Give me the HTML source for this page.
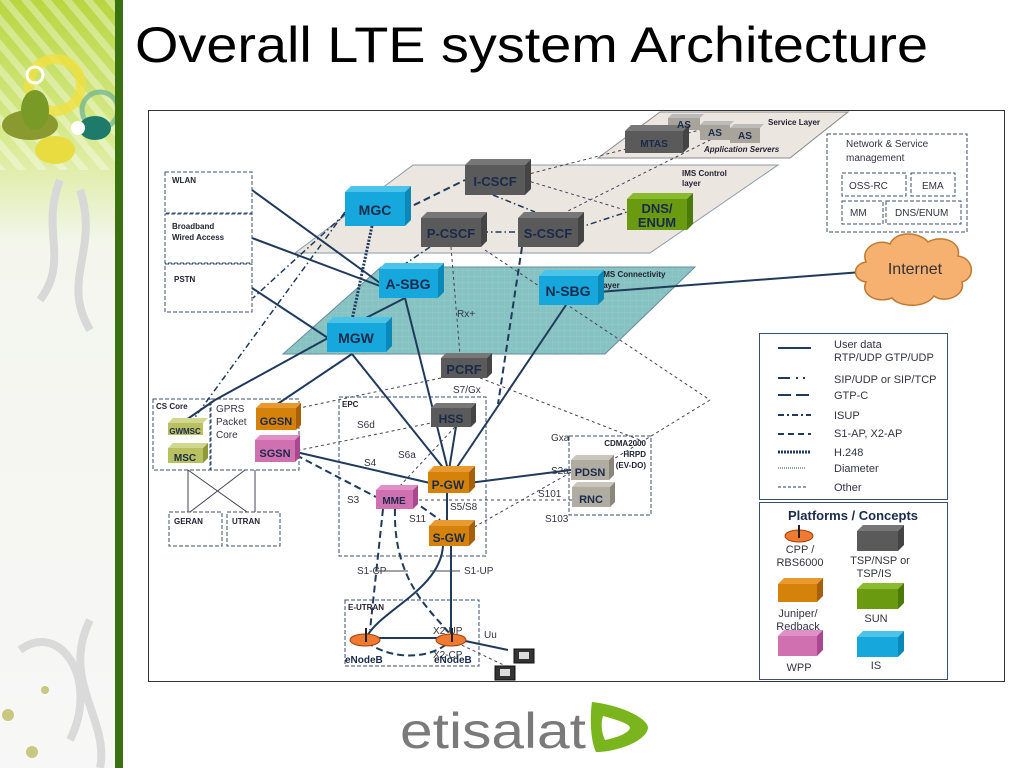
<!DOCTYPE html>
<html><head><meta charset="utf-8"><style>
html,body{margin:0;padding:0;background:#fff;width:1024px;height:768px;overflow:hidden}
svg{display:block}
text{font-family:"Liberation Sans",Arial,sans-serif}
</style></head><body>
<svg width="1024" height="768" viewBox="0 0 1024 768" xmlns="http://www.w3.org/2000/svg">
<defs>
<linearGradient id="side" x1="0" y1="0" x2="0" y2="1">
<stop offset="0" stop-color="#b8d640"/><stop offset="0.18" stop-color="#d8ea90"/><stop offset="0.32" stop-color="#f4f6ee"/><stop offset="1" stop-color="#f7f7f7"/>
</linearGradient>
<pattern id="stripes" width="16" height="16" patternUnits="userSpaceOnUse" patternTransform="rotate(-40)">
<rect width="16" height="16" fill="none"/><rect width="7" height="16" fill="#ffffff" opacity="0.35"/>
</pattern>
<pattern id="grid" width="6" height="6" patternUnits="userSpaceOnUse">
<rect width="6" height="6" fill="#86c2c2"/><path d="M0 0H6M0 0V6" stroke="#9ed0d0" stroke-width="0.6"/>
</pattern>
</defs>

<!-- sidebar -->
<rect x="0" y="0" width="116" height="768" fill="url(#side)"/>
<rect x="0" y="0" width="116" height="170" fill="url(#stripes)"/>
<circle cx="55" cy="85" r="26" fill="none" stroke="#f0e040" stroke-width="10" opacity="0.8"/>
<circle cx="35" cy="75" r="8" fill="none" stroke="#fff" stroke-width="3"/>
<circle cx="100" cy="110" r="18" fill="none" stroke="#6ab090" stroke-width="5" opacity="0.7"/>
<ellipse cx="30" cy="125" rx="28" ry="15" fill="#8a9a30"/>
<ellipse cx="55" cy="150" rx="20" ry="14" fill="#e8dc40"/>
<ellipse cx="35" cy="110" rx="14" ry="20" fill="#7a9a28"/>
<ellipse cx="95" cy="128" rx="16" ry="12" fill="#1e7a6a"/>
<circle cx="78" cy="128" r="7" fill="#fff"/>
<path d="M60 180 C40 230,70 260,40 300 M80 190 C100 250,60 280,90 330" stroke="#d8d8d8" stroke-width="8" fill="none"/>
<path d="M20 650 C60 620,100 680,70 740 M90 620 C60 680,110 720,100 768" stroke="#dadada" stroke-width="8" fill="none"/>
<circle cx="8" cy="715" r="6" fill="#c8c880"/><circle cx="32" cy="752" r="6" fill="#c8c880"/><circle cx="45" cy="690" r="4" fill="#c8c880"/>
<rect x="115" y="0" width="8" height="768" fill="#3a7010"/>

<!-- title -->
<text x="135" y="62" font-size="50" fill="#000" textLength="793" lengthAdjust="spacingAndGlyphs">Overall LTE system Architecture</text>

<!-- frame -->
<rect x="148.5" y="110.5" width="856" height="571" fill="#fff" stroke="#333" stroke-width="1"/>

<!-- planes -->
<polygon points="598,158 660,112 848,112 790,158" fill="#ece6e0" stroke="#888"/>
<polygon points="413,165 778,165 650,253 295,253" fill="#ece6e0" stroke="#8a9aaa"/>
<polygon points="381,267 695,267 605,354 283,354" fill="url(#grid)" stroke="#6a8a9a"/>
<text x="768" y="125" font-size="8" font-weight="bold" fill="#223">Service Layer</text>
<text x="704" y="152" font-size="8" font-weight="bold" font-style="italic" fill="#223">Application Servers</text>
<text x="682" y="176" font-size="8" font-weight="bold" fill="#223">IMS Control</text>
<text x="682" y="186" font-size="8" font-weight="bold" fill="#223">layer</text>
<text x="601" y="277" font-size="8" font-weight="bold" fill="#223">IMS Connectivity</text>
<text x="601" y="288" font-size="8" font-weight="bold" fill="#223">layer</text>

<!-- left dashed boxes -->
<g fill="none" stroke="#3a5070" stroke-dasharray="4,2">
<rect x="165" y="172" width="87" height="41"/><rect x="165" y="214" width="87" height="49"/><rect x="165" y="264" width="87" height="48"/>
<rect x="153" y="399" width="57" height="71"/><rect x="211" y="399" width="88" height="71"/>
<rect x="169" y="512" width="53" height="34"/><rect x="227" y="512" width="53" height="34"/>
<rect x="339" y="397" width="147" height="159"/>
<rect x="569" y="436" width="82" height="79"/>
<rect x="345" y="600" width="134" height="66"/>
<rect x="827" y="134" width="140" height="98"/>
<rect x="842" y="173" width="64" height="23"/><rect x="911" y="173" width="44" height="23"/>
<rect x="842" y="201" width="41" height="23"/><rect x="886" y="201" width="75" height="23"/>
</g>
<g font-size="8" font-weight="bold" fill="#223">
<text x="172" y="183">WLAN</text><text x="172" y="229">Broadband</text><text x="172" y="240">Wired Access</text><text x="174" y="282">PSTN</text>
<text x="156" y="409">CS Core</text><text x="174" y="524">GERAN</text><text x="232" y="524">UTRAN</text>
<text x="342" y="407">EPC</text><text x="348" y="610">E-UTRAN</text>
<text x="646" y="446" text-anchor="end">CDMA2000</text><text x="646" y="457" text-anchor="end">HRPD</text><text x="646" y="468" text-anchor="end">(EV-DO)</text>
</g>
<g font-size="10" fill="#334">
<text x="216" y="412">GPRS</text><text x="216" y="425">Packet</text><text x="216" y="438">Core</text>
<text x="846" y="147">Network &amp; Service</text><text x="846" y="161">management</text>
<text x="849" y="189">OSS-RC</text><text x="922" y="189">EMA</text><text x="850" y="216">MM</text><text x="895" y="216">DNS/ENUM</text>
</g>

<!-- connectors -->
<g fill="none" stroke="#1f3a5a" stroke-width="2">
<line x1="252" y1="190" x2="380" y2="283"/>
<line x1="252" y1="238" x2="380" y2="286"/>
<line x1="252" y1="288" x2="328" y2="338"/>
<line x1="405" y1="298" x2="354" y2="324"/>
<line x1="405" y1="298" x2="448" y2="470"/>
<line x1="328" y1="338" x2="215" y2="400"/>
<line x1="215" y1="400" x2="186" y2="420"/>
<line x1="352" y1="354" x2="276" y2="405"/>
<line x1="352" y1="354" x2="445" y2="470"/>
<line x1="566" y1="305" x2="455" y2="470"/>
<line x1="598" y1="292" x2="862" y2="272"/>
<line x1="296" y1="452" x2="430" y2="483"/>
<line x1="469" y1="483" x2="571" y2="470"/>
<line x1="447" y1="493" x2="447" y2="520"/>
<path d="M443 546 C440 590,380 610,366 638"/>
<line x1="451" y1="546" x2="451" y2="638"/>
<line x1="367" y1="638" x2="449" y2="638"/>
<line x1="459" y1="408" x2="449" y2="470"/>
<line x1="451" y1="638" x2="508" y2="650"/>
</g>
<g fill="none" stroke="#1f3a5a" stroke-width="2" stroke-dasharray="7,4">
<line x1="296" y1="455" x2="376" y2="497"/>
<line x1="412" y1="500" x2="440" y2="520"/>
<path d="M383 509 L370 630"/>
<path d="M395 509 C393 580,430 610,450 634"/>
<path d="M367 642 C390 660,430 660,449 642"/>
<line x1="522" y1="247" x2="498" y2="404"/>
<line x1="404" y1="210" x2="465" y2="180"/>
</g>
<g fill="none" stroke="#1f3a5a" stroke-width="3" stroke-dasharray="2,1.5">
<line x1="372" y1="226" x2="352" y2="320"/>
</g>
<g fill="none" stroke="#1f3a5a" stroke-width="1.5" stroke-dasharray="6,3,1.5,3">
<line x1="482" y1="232" x2="518" y2="232"/>
<line x1="345" y1="212" x2="193" y2="420"/>
<line x1="345" y1="214" x2="253" y2="298"/>
<line x1="430" y1="247" x2="405" y2="264"/>
<line x1="493" y1="195" x2="535" y2="212"/>
<line x1="578" y1="228" x2="627" y2="212"/>
</g>
<g fill="none" stroke="#445" stroke-width="1" stroke-dasharray="3,3">
<line x1="451" y1="247" x2="460" y2="355"/>
<line x1="485" y1="250" x2="710" y2="400"/>
<line x1="710" y1="400" x2="612" y2="460"/>
<line x1="441" y1="378" x2="290" y2="410"/>
<line x1="480" y1="378" x2="640" y2="440"/>
<line x1="413" y1="500" x2="572" y2="500"/>
<line x1="469" y1="530" x2="575" y2="470"/>
<line x1="525" y1="180" x2="625" y2="210"/>
<line x1="525" y1="175" x2="700" y2="130"/>
<line x1="520" y1="235" x2="720" y2="135"/>
<line x1="465" y1="416" x2="300" y2="450"/>
<line x1="455" y1="427" x2="398" y2="488"/>
<line x1="451" y1="640" x2="510" y2="668"/>
</g>
<g stroke="#445" stroke-width="1">
<line x1="188" y1="470" x2="188" y2="512"/><line x1="188" y1="470" x2="247" y2="512"/>
<line x1="245" y1="470" x2="190" y2="512"/><line x1="255" y1="470" x2="255" y2="512"/>
<line x1="375" y1="571" x2="408" y2="571"/><line x1="430" y1="571" x2="460" y2="571"/>
</g>

<!-- 3D boxes -->
<g id="boxes">
<!-- MGC -->
<polygon points="345,192 351,186 411,186 405,192" fill="#4cc4ea"/><polygon points="405,192 411,186 411,220 405,226" fill="#0a88b8"/><rect x="345" y="192" width="60" height="34" fill="#16a8dc"/>
<!-- I-CSCF -->
<polygon points="465,165 471,159 531,159 525,165" fill="#777"/><polygon points="525,165 531,159 531,189 525,195" fill="#444"/><rect x="465" y="165" width="60" height="30" fill="#5a5a5a"/>
<!-- P-CSCF -->
<polygon points="421,218 427,212 487,212 481,218" fill="#777"/><polygon points="481,218 487,212 487,241 481,247" fill="#444"/><rect x="421" y="218" width="60" height="29" fill="#5a5a5a"/>
<!-- S-CSCF -->
<polygon points="518,218 524,212 584,212 578,218" fill="#777"/><polygon points="578,218 584,212 584,241 578,247" fill="#444"/><rect x="518" y="218" width="60" height="29" fill="#5a5a5a"/>
<!-- A-SBG -->
<polygon points="379,269 385,263 444,263 438,269" fill="#4cc4ea"/><polygon points="438,269 444,263 444,292 438,298" fill="#0a88b8"/><rect x="379" y="269" width="59" height="29" fill="#16a8dc"/>
<!-- N-SBG -->
<polygon points="539,276 545,270 604,270 598,276" fill="#4cc4ea"/><polygon points="598,276 604,270 604,299 598,305" fill="#0a88b8"/><rect x="539" y="276" width="59" height="29" fill="#16a8dc"/>
<!-- MGW -->
<polygon points="327,323 333,317 392,317 386,323" fill="#4cc4ea"/><polygon points="386,323 392,317 392,346 386,352" fill="#0a88b8"/><rect x="327" y="323" width="59" height="29" fill="#16a8dc"/>
<!-- PCRF -->
<polygon points="441,358 446,353 492,353 487,358" fill="#777"/><polygon points="487,358 492,353 492,373 487,378" fill="#444"/><rect x="441" y="358" width="46" height="20" fill="#5a5a5a"/>
<!-- DNS/ENUM -->
<polygon points="627,199 633,193 693,193 687,199" fill="#8aba30"/><polygon points="687,199 693,193 693,224 687,230" fill="#4a7a08"/><rect x="627" y="199" width="60" height="31" fill="#6a9a10"/>
<!-- AS servers -->
<polygon points="668,118 672,114 704,114 700,118" fill="#bbb"/><rect x="668" y="118" width="32" height="12" fill="#a8a49c"/>
<polygon points="700,125 704,121 734,121 730,125" fill="#bbb"/><rect x="700" y="125" width="30" height="15" fill="#a8a49c"/>
<polygon points="730,128 734,124 764,124 760,128" fill="#bbb"/><rect x="730" y="128" width="30" height="15" fill="#a8a49c"/>
<!-- MTAS -->
<polygon points="625,131 631,125 689,125 683,131" fill="#777"/><polygon points="683,131 689,125 689,147 683,153" fill="#444"/><rect x="625" y="131" width="58" height="22" fill="#5a5a5a"/>
<!-- GWMSC -->
<polygon points="168,423 173,418 208,418 203,423" fill="#d0d890"/><rect x="168" y="423" width="35" height="12" fill="#b8c060"/>
<!-- MSC -->
<polygon points="168,448 173,443 208,443 203,448" fill="#d0d890"/><polygon points="203,448 208,443 208,458 203,463" fill="#909838"/><rect x="168" y="448" width="35" height="15" fill="#b8c060"/>
<!-- GGSN -->
<polygon points="256,408 261,403 301,403 296,408" fill="#e89a30"/><polygon points="296,408 301,403 301,425 296,430" fill="#a86008"/><rect x="256" y="408" width="40" height="22" fill="#d4820a"/>
<!-- SGSN -->
<polygon points="255,440 260,435 300,435 295,440" fill="#e090c8"/><polygon points="295,440 300,435 300,457 295,462" fill="#a84890"/><rect x="255" y="440" width="40" height="22" fill="#d070b0"/>
<!-- HSS -->
<polygon points="431,408 436,403 476,403 471,408" fill="#777"/><polygon points="471,408 476,403 476,422 471,427" fill="#444"/><rect x="431" y="408" width="40" height="19" fill="#5a5a5a"/>
<!-- P-GW -->
<polygon points="428,472 434,466 475,466 469,472" fill="#e89a30"/><polygon points="469,472 475,466 475,487 469,493" fill="#a86008"/><rect x="428" y="472" width="41" height="21" fill="#d4820a"/>
<!-- MME -->
<polygon points="376,490 381,485 418,485 413,490" fill="#e090c8"/><polygon points="413,490 418,485 418,504 413,509" fill="#a84890"/><rect x="376" y="490" width="37" height="19" fill="#d070b0"/>
<!-- S-GW -->
<polygon points="429,526 435,520 475,520 469,526" fill="#e89a30"/><polygon points="469,526 475,520 475,540 469,546" fill="#a86008"/><rect x="429" y="526" width="40" height="20" fill="#d4820a"/>
<!-- PDSN -->
<polygon points="571,460 576,455 614,455 609,460" fill="#cac6bc"/><polygon points="609,460 614,455 614,475 609,480" fill="#8a867c"/><rect x="571" y="460" width="38" height="20" fill="#b0aca2"/>
<!-- RNC -->
<polygon points="572,487 577,482 615,482 610,487" fill="#cac6bc"/><polygon points="610,487 615,482 615,502 610,507" fill="#8a867c"/><rect x="572" y="487" width="38" height="20" fill="#b0aca2"/>
</g>
<g font-weight="bold" fill="#1a2a4a" text-anchor="middle">
<text x="375" y="215" font-size="14">MGC</text>
<text x="495" y="186" font-size="13">I-CSCF</text>
<text x="451" y="238" font-size="13">P-CSCF</text>
<text x="548" y="238" font-size="13">S-CSCF</text>
<text x="408" y="289" font-size="14">A-SBG</text>
<text x="568" y="296" font-size="14">N-SBG</text>
<text x="356" y="343" font-size="14">MGW</text>
<text x="464" y="374" font-size="13">PCRF</text>
<text x="657" y="213" font-size="13">DNS/</text><text x="657" y="227" font-size="13">ENUM</text>
<text x="654" y="147" font-size="10">MTAS</text>
<text x="684" y="128" font-size="10">AS</text><text x="715" y="136" font-size="10">AS</text><text x="745" y="139" font-size="10">AS</text>
<text x="185" y="434" font-size="8">GWMSC</text>
<text x="185" y="461" font-size="10">MSC</text>
<text x="276" y="425" font-size="11">GGSN</text>
<text x="275" y="457" font-size="11">SGSN</text>
<text x="451" y="423" font-size="12">HSS</text>
<text x="448" y="489" font-size="12">P-GW</text>
<text x="394" y="504" font-size="10">MME</text>
<text x="449" y="542" font-size="12">S-GW</text>
<text x="590" y="476" font-size="11">PDSN</text>
<text x="591" y="503" font-size="11">RNC</text>
</g>
<g font-size="10" fill="#334">
<text x="457" y="317">Rx+</text><text x="453" y="393">S7/Gx</text>
<text x="357" y="428">S6d</text><text x="398" y="458">S6a</text><text x="364" y="466">S4</text><text x="347" y="503">S3</text>
<text x="551" y="441">Gxa</text><text x="551" y="474">S2a</text><text x="538" y="497">S101</text><text x="545" y="522">S103</text>
<text x="450" y="510">S5/S8</text><text x="409" y="522">S11</text>
<text x="357" y="574">S1-CP</text><text x="464" y="574">S1-UP</text>
<text x="433" y="634">X2-UP</text><text x="433" y="658">X2-CP</text><text x="484" y="638">Uu</text>
</g>
<!-- eNodeBs -->
<ellipse cx="365" cy="640" rx="15" ry="6" fill="#f07a30" stroke="#a04010"/>
<line x1="366" y1="628" x2="366" y2="642" stroke="#222" stroke-width="2"/>
<ellipse cx="451" cy="640" rx="15" ry="6" fill="#f07a30" stroke="#a04010"/>
<line x1="452" y1="628" x2="452" y2="642" stroke="#222" stroke-width="2"/>
<text x="345" y="663" font-size="10" font-weight="bold" fill="#1a2a4a">eNodeB</text>
<text x="434" y="663" font-size="10" font-weight="bold" fill="#1a2a4a">eNodeB</text>
<rect x="514" y="649" width="20" height="14" fill="#333" stroke="#111"/><rect x="519" y="652" width="10" height="7" fill="#ddd"/>
<rect x="495" y="666" width="20" height="14" fill="#333" stroke="#111"/><rect x="500" y="669" width="10" height="7" fill="#ddd"/>

<!-- internet -->
<path d="M866 262 C860 248,878 238,890 244 C896 230,920 232,928 242 C942 234,962 242,958 256 C974 258,976 278,962 282 C966 296,944 304,934 296 C926 308,900 308,892 298 C876 304,860 294,866 282 C852 280,852 264,866 262 Z" fill="#f6b070" stroke="#c07a30" stroke-width="1.5"/>
<text x="915" y="274" font-size="16" fill="#333" text-anchor="middle">Internet</text>

<!-- legend -->
<rect x="759.5" y="333.5" width="188" height="166" fill="#fff" stroke="#3a5070"/>
<g stroke="#1f3a5a" fill="none">
<line x1="778" y1="348" x2="811" y2="348" stroke-width="2"/>
<line x1="778" y1="378" x2="790" y2="378" stroke-width="2"/><line x1="796" y1="378" x2="798" y2="378" stroke-width="2"/><line x1="803" y1="378" x2="805" y2="378" stroke-width="2"/>
<line x1="778" y1="395" x2="811" y2="395" stroke-width="2" stroke-dasharray="13,5"/>
<line x1="778" y1="415" x2="811" y2="415" stroke-width="2" stroke-dasharray="6,3,2,3"/>
<line x1="778" y1="434" x2="811" y2="434" stroke-width="2" stroke-dasharray="6,4"/>
<line x1="778" y1="452" x2="811" y2="452" stroke-width="3" stroke-dasharray="2,1"/>
<line x1="778" y1="468" x2="806" y2="468" stroke-width="1" stroke-dasharray="1,1"/>
<line x1="778" y1="487" x2="806" y2="487" stroke-width="1" stroke-dasharray="3,2"/>
</g>
<g font-size="11" fill="#334">
<text x="834" y="348">User data</text><text x="834" y="361">RTP/UDP GTP/UDP</text>
<text x="834" y="383">SIP/UDP or SIP/TCP</text><text x="834" y="399">GTP-C</text>
<text x="834" y="419">ISUP</text><text x="834" y="437">S1-AP, X2-AP</text><text x="834" y="456">H.248</text>
<text x="834" y="472">Diameter</text><text x="834" y="491">Other</text>
</g>
<rect x="759.5" y="502.5" width="188" height="177" fill="#fff" stroke="#3a5070"/>
<text x="853" y="520" font-size="13" font-weight="bold" fill="#1a2a4a" text-anchor="middle">Platforms / Concepts</text>
<ellipse cx="799" cy="536" rx="14" ry="6" fill="#f07a30" stroke="#a04010"/><line x1="799" y1="525" x2="799" y2="538" stroke="#222" stroke-width="2"/>
<polygon points="778,584 784,578 823,578 817,584" fill="#e89a30"/><polygon points="817,584 823,578 823,596 817,602" fill="#a86008"/><rect x="778" y="584" width="39" height="18" fill="#d4820a"/>
<polygon points="778,636 784,630 823,630 817,636" fill="#e090c8"/><polygon points="817,636 823,630 823,650 817,656" fill="#a84890"/><rect x="778" y="636" width="39" height="20" fill="#d070b0"/>
<polygon points="857,531 863,525 904,525 898,531" fill="#777"/><polygon points="898,531 904,525 904,545 898,551" fill="#444"/><rect x="857" y="531" width="41" height="20" fill="#5a5a5a"/>
<polygon points="857,589 863,583 904,583 898,589" fill="#8aba30"/><polygon points="898,589 904,583 904,603 898,609" fill="#4a7a08"/><rect x="857" y="589" width="41" height="20" fill="#6a9a10"/>
<polygon points="857,637 863,631 904,631 898,637" fill="#4cc4ea"/><polygon points="898,637 904,631 904,651 898,657" fill="#0a88b8"/><rect x="857" y="637" width="41" height="20" fill="#16a8dc"/>
<g font-size="11" fill="#334" text-anchor="middle">
<text x="800" y="553">CPP /</text><text x="800" y="566">RBS6000</text>
<text x="798" y="617">Juniper/</text><text x="798" y="630">Redback</text><text x="799" y="671">WPP</text>
<text x="880" y="564">TSP/NSP or</text><text x="874" y="577">TSP/IS</text>
<text x="876" y="622">SUN</text><text x="876" y="669">IS</text>
</g>

<!-- logo -->
<text x="400" y="748" font-size="50" fill="#7a7a7a" textLength="186" lengthAdjust="spacingAndGlyphs">etisalat</text>
<path d="M592 702 C620 705,648 718,648 728 C646 742,615 752,596 752 C590 740,590 715,592 702 Z" fill="#7ab51d"/>
<path d="M603 716 C618 720,630 724,630 728 C628 734,615 738,605 740 C601 732,601 722,603 716 Z" fill="#fff"/>
</svg>
</body></html>
